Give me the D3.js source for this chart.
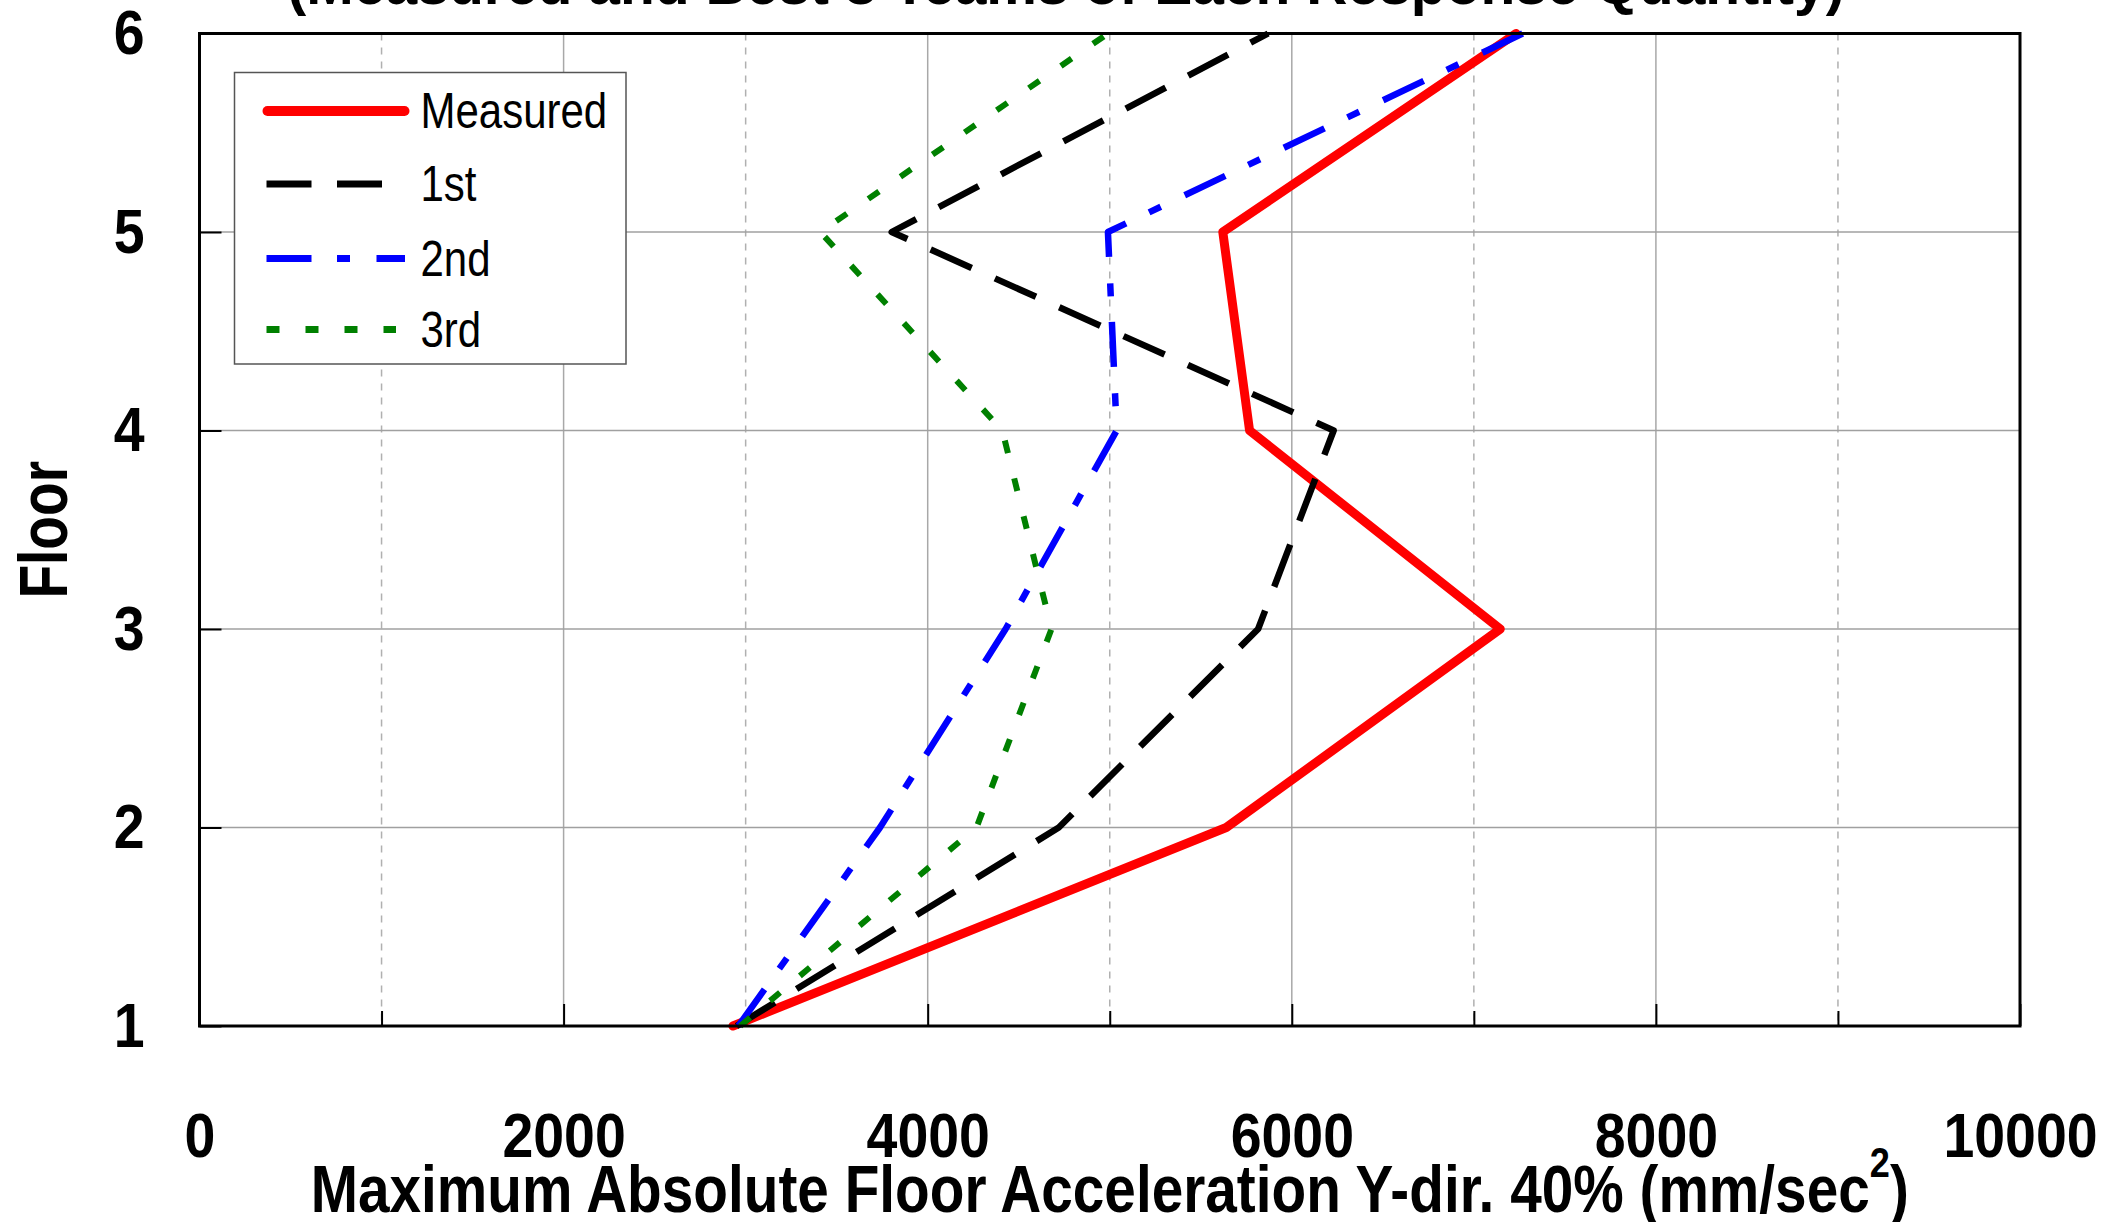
<!DOCTYPE html>
<html>
<head>
<meta charset="utf-8">
<script src="https://cdn.jsdelivr.net/npm/d3@7"></script>
<style>
  body { margin: 0; background: #fff; }
  svg { display: block; }
  svg text { font-family: "Liberation Sans", Arial, sans-serif; fill: #000; }
</style>
</head>
<body>
<svg id="root"></svg>
<script>
// data
const floors = [1, 2, 3, 4, 5, 6];
const measured = [2930, 5640, 7145, 5768, 5621, 7232];
const first = [2950, 4720, 5815, 6230, 3802, 5870];
const second = [2960, 3738, 4428, 5038, 4990, 7268];
const third = [2970, 4268, 4680, 4410, 3410, 4990];
const seriesNames = ["Measured", "1st", "2nd", "3rd"];

const xMajor = [0, 2000, 4000, 6000, 8000, 10000];
const xMinor = [1000, 3000, 5000, 7000, 9000];

const margin = { top: 33.5, right: 84, bottom: 196, left: 199.5 },
  width = 2104 - margin.left - margin.right,
  height = 1222 - margin.top - margin.bottom;

// no narrow font installed, so squeeze Liberation Sans horizontally
const tickSqueeze = 0.88;

const root = d3.select("#root").attr("width", 2104).attr("height", 1222);
root.append("rect").attr("width", 2104).attr("height", 1222).attr("fill", "#fff");

const svg = root.append("g")
  .attr("transform", "translate(" + margin.left + "," + margin.top + ")");

var xScale = d3.scaleLinear([0, 10000], [0, width]);
var yScale = d3.scaleLinear([1, 6], [height, 0]);

// grid lines
svg.append("g").selectAll("line")
  .data(xMajor.slice(1, -1))
  .join("line")
  .attr("x1", d => xScale(d)).attr("x2", d => xScale(d))
  .attr("y1", 0).attr("y2", height)
  .attr("stroke", "#a8a8a8").attr("stroke-width", 1.5);

svg.append("g").selectAll("line")
  .data(xMinor)
  .join("line")
  .attr("x1", d => xScale(d)).attr("x2", d => xScale(d))
  .attr("y1", 0).attr("y2", height)
  .attr("stroke", "#b0b0b0").attr("stroke-width", 1.5)
  .attr("stroke-dasharray", "7,7");

svg.append("g").selectAll("line")
  .data(floors.slice(1, -1))
  .join("line")
  .attr("x1", 0).attr("x2", width)
  .attr("y1", d => yScale(d)).attr("y2", d => yScale(d))
  .attr("stroke", "#a0a0a0").attr("stroke-width", 1.5);

// axes (ticks point inward)
const xAxis = svg.append("g")
  .attr("transform", `translate(0,${height})`)
  .call(d3.axisBottom(xScale).tickValues(xMajor).tickFormat(d3.format("d"))
    .tickSizeInner(-22).tickSizeOuter(0).tickPadding(86));
const xAxisMinor = svg.append("g")
  .attr("transform", `translate(0,${height})`)
  .call(d3.axisBottom(xScale).tickValues(xMinor).tickSizeInner(-15).tickSizeOuter(0).tickFormat(""));
const yAxis = svg.append("g")
  .call(d3.axisLeft(yScale).tickValues(floors).tickFormat(d3.format("d"))
    .tickSizeInner(-22).tickSizeOuter(0).tickPadding(55 / tickSqueeze));

[xAxis, xAxisMinor, yAxis].forEach(a => {
  a.select(".domain").remove();
  a.selectAll(".tick line").attr("stroke", "#000").attr("stroke-width", 2);
  a.selectAll(".tick text")
    .attr("transform", `scale(${tickSqueeze},1)`)
    .style("font-family", '"Liberation Sans", Arial, sans-serif')
    .style("font-size", "63px").style("font-weight", "bold");
});

// series
const styles = [
  { color: "#ff0000", width: 9, dash: null, cap: "round" },
  { color: "#000000", width: 6.5, dash: "45,25.5", cap: "butt" },
  { color: "#0000ff", width: 6.5, dash: "45,25.5,13,26.5", cap: "butt" },
  { color: "#008000", width: 6, dash: "13,26", cap: "butt" }
];
const seriesData = [measured, first, second, third];

var line = d3.line()
  .x(d => xScale(d[0]))
  .y(d => yScale(d[1]));

seriesData.forEach((vals, i) => {
  svg.append("path")
    .datum(vals.map((v, j) => [v, floors[j]]))
    .attr("fill", "none")
    .attr("stroke", styles[i].color)
    .attr("stroke-width", styles[i].width)
    .attr("stroke-linejoin", "round")
    .attr("stroke-linecap", styles[i].cap)
    .attr("stroke-dasharray", styles[i].dash)
    .attr("d", line);
});

// plot border
svg.append("rect")
  .attr("x", 0).attr("y", 0)
  .attr("width", width).attr("height", height)
  .attr("fill", "none").attr("stroke", "#000").attr("stroke-width", 3);

// legend
const legend = root.append("g").attr("transform", "translate(234.5,72.5)");
legend.append("rect")
  .attr("width", 391.5).attr("height", 291.5)
  .attr("fill", "#fff").attr("stroke", "#555").attr("stroke-width", 1.5);

const rowY = [38.5, 111.5, 186, 257];
const legendEnd = [170, 172, 170.5, 161.5];
seriesNames.forEach((name, i) => {
  const g = legend.append("g").attr("transform", `translate(0,${rowY[i]})`);
  g.append("line")
    .attr("x1", i === 0 ? 33 : 32).attr("x2", legendEnd[i])
    .attr("stroke", styles[i].color)
    .attr("stroke-width", i === 0 ? 10 : 7)
    .attr("stroke-linecap", styles[i].cap)
    .attr("stroke-dasharray", styles[i].dash);
  g.append("text")
    .attr("transform", "translate(186,17) scale(0.84,1)")
    .style("font-size", "50px")
    .text(name);
});

// axis labels
root.append("text")
  .attr("transform", `translate(${margin.left + width / 2},1212) scale(0.86,1)`)
  .attr("text-anchor", "middle")
  .style("font-size", "66px").style("font-weight", "bold")
  .html('Maximum Absolute Floor Acceleration Y-dir. 40% (mm/sec<tspan dy="-35" font-size="42">2</tspan><tspan dy="35">)</tspan>');

root.append("text")
  .attr("transform", "translate(67," + (margin.top + height / 2) + ") rotate(-90) scale(0.81,1)")
  .attr("text-anchor", "middle")
  .style("font-size", "68px").style("font-weight", "bold")
  .text("Floor");

// title, mostly cut off by the top edge
root.append("text")
  .attr("x", 1066).attr("y", 3.5)
  .attr("text-anchor", "middle")
  .style("font-size", "57px").style("font-weight", "bold")
  .text("(Measured and Best 3 Teams of Each Response Quantity)");
</script>
</body>
</html>
